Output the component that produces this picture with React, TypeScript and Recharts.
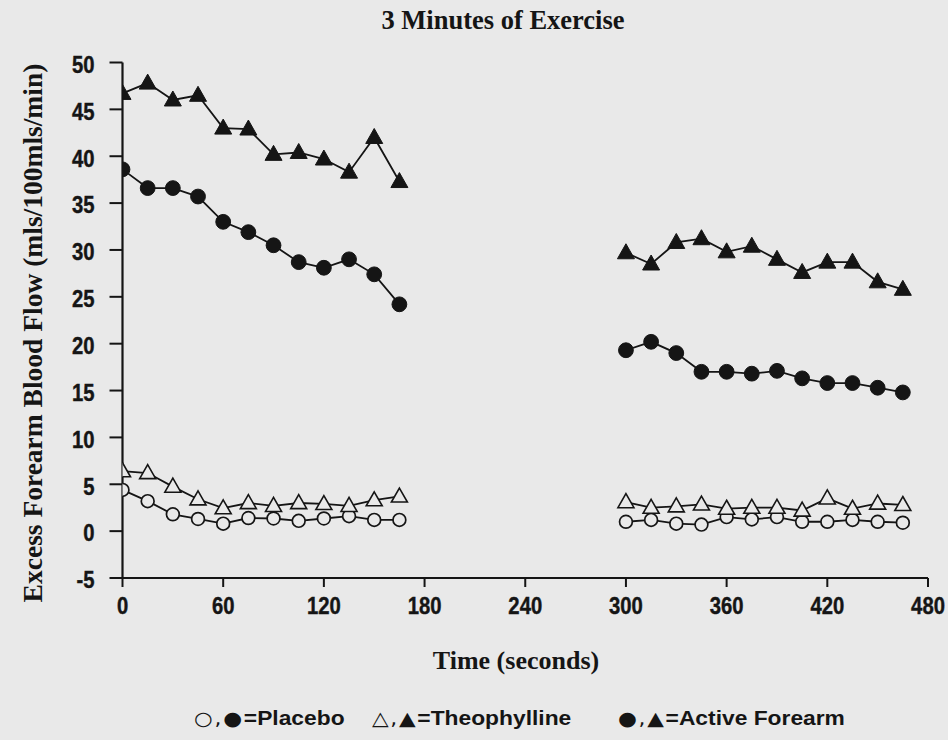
import React from "react";
import { LineChart, Line, XAxis, YAxis } from "recharts";

// Sampling times (seconds) for the two recording windows
const TIMES_EARLY = [0, 15, 30, 45, 60, 75, 90, 105, 120, 135, 150, 165];
const TIMES_LATE = [300, 315, 330, 345, 360, 375, 390, 405, 420, 435, 450, 465];

// Excess forearm blood flow (mls/100mls/min)
const THEO_ACTIVE_EARLY = [46.7, 47.8, 46.0, 46.5, 43.0, 42.9, 40.2, 40.4, 39.7, 38.3, 42.0, 37.3];
const THEO_ACTIVE_LATE = [29.7, 28.5, 30.8, 31.2, 29.8, 30.4, 29.0, 27.6, 28.7, 28.7, 26.6, 25.8];
const PLACEBO_ACTIVE_EARLY = [38.6, 36.6, 36.6, 35.7, 33.0, 31.9, 30.5, 28.7, 28.1, 29.0, 27.4, 24.2];
const PLACEBO_ACTIVE_LATE = [19.3, 20.2, 19.0, 17.0, 17.0, 16.8, 17.1, 16.3, 15.8, 15.8, 15.3, 14.8];
const THEO_CONTROL_EARLY = [6.4, 6.2, 4.75, 3.4, 2.45, 3.0, 2.7, 3.0, 2.9, 2.7, 3.3, 3.7];
const THEO_CONTROL_LATE = [3.1, 2.5, 2.65, 2.85, 2.4, 2.5, 2.5, 2.2, 3.5, 2.4, 2.95, 2.8];
const PLACEBO_CONTROL_EARLY = [4.4, 3.2, 1.8, 1.3, 0.8, 1.4, 1.35, 1.1, 1.35, 1.6, 1.2, 1.2];
const PLACEBO_CONTROL_LATE = [1.0, 1.2, 0.8, 0.7, 1.5, 1.25, 1.5, 1.0, 1.0, 1.2, 1.0, 0.9];

const X_TICKS = [0, 60, 120, 180, 240, 300, 360, 420, 480];
const Y_TICKS = [-5, 0, 5, 10, 15, 20, 25, 30, 35, 40, 45, 50];

const TITLE = "3 Minutes of Exercise";
const X_TITLE = "Time (seconds)";
const Y_TITLE = "Excess Forearm Blood Flow (mls/100mls/min)";
const LEGEND_ITEMS = [
  { marks: "○,●", text: "=Placebo" },
  { marks: "△,▲", text: "=Theophylline" },
  { marks: "●,▲", text: "=Active Forearm" },
];

const buildRows = (times: number[], pc: number[], tc: number[], pa: number[], ta: number[]) =>
  times.map((t, i) => ({ t, pc: pc[i], tc: tc[i], pa: pa[i], ta: ta[i] }));

const early = buildRows(TIMES_EARLY, PLACEBO_CONTROL_EARLY, THEO_CONTROL_EARLY, PLACEBO_ACTIVE_EARLY, THEO_ACTIVE_EARLY);
const late = buildRows(TIMES_LATE, PLACEBO_CONTROL_LATE, THEO_CONTROL_LATE, PLACEBO_ACTIVE_LATE, THEO_ACTIVE_LATE);

const BG = "#e9e9e9";
const INK = "#151515";
const SERIF = "'Liberation Serif', 'Times New Roman', serif";
const SANS = "'Liberation Sans', Arial, sans-serif";
const SYMBOLS = "'DejaVu Sans', sans-serif";

const tri = (cx: number, cy: number, w: number, h: number) =>
  `M${cx},${cy - h * 0.6} L${cx + w / 2},${cy + h * 0.4} L${cx - w / 2},${cy + h * 0.4} Z`;

const FilledCircle = (p: any) =>
  p.cy == null ? <g key={p.key} /> : <circle key={p.key} cx={p.cx} cy={p.cy} r={7.4} fill={INK} stroke={INK} strokeWidth={1} />;
const OpenCircle = (p: any) =>
  p.cy == null ? <g key={p.key} /> : <circle key={p.key} cx={p.cx} cy={p.cy} r={6.4} fill={BG} stroke={INK} strokeWidth={1.7} />;
const FilledTriangle = (p: any) =>
  p.cy == null ? <g key={p.key} /> : <path key={p.key} d={tri(p.cx, p.cy, 17, 15)} fill={INK} stroke={INK} strokeWidth={1} />;
const OpenTriangle = (p: any) =>
  p.cy == null ? <g key={p.key} /> : <path key={p.key} d={tri(p.cx, p.cy, 16, 14)} fill={BG} stroke={INK} strokeWidth={1.6} />;

// Condensed bold tick labels
const XTick = (p: any) => (
  <text
    transform={`translate(${p.x},${p.y}) scale(0.88,1)`}
    textAnchor="middle"
    dy="0.71em"
    fontFamily={SANS}
    fontWeight={700}
    fontSize={23}
    fill={INK}
    stroke={INK}
    strokeWidth={0.4}
  >
    {p.payload.value}
  </text>
);
const YTick = (p: any) => (
  <text
    transform={`translate(${p.x},${p.y}) scale(0.88,1)`}
    textAnchor="end"
    dy="0.45em"
    fontFamily={SANS}
    fontWeight={700}
    fontSize={23}
    fill={INK}
    stroke={INK}
    strokeWidth={0.4}
  >
    {p.payload.value}
  </text>
);

const series = [
  { key: "pc", dot: OpenCircle },
  { key: "tc", dot: OpenTriangle },
  { key: "pa", dot: FilledCircle },
  { key: "ta", dot: FilledTriangle },
];

const LEGEND_LEFT = [194, 372, 618];

export default function App() {
  return (
    <div style={{ position: "absolute", left: 0, top: 0, width: 948, height: 740, background: BG, overflow: "hidden" }}>
      <LineChart width={948} height={740} margin={{ top: 62.5, right: 20, bottom: 122, left: 22.5 }}>
        <XAxis
          type="number"
          dataKey="t"
          domain={[0, 480]}
          ticks={X_TICKS}
          interval={0}
          allowDataOverflow
          height={40}
          tickSize={9}
          tickMargin={11}
          tick={<XTick />}
          axisLine={{ stroke: INK, strokeWidth: 2.2 }}
          tickLine={{ stroke: INK, strokeWidth: 2 }}
        />
        <YAxis
          type="number"
          domain={[-5, 50]}
          ticks={Y_TICKS}
          interval={0}
          allowDataOverflow
          width={100}
          tickSize={13}
          tickMargin={15}
          tick={<YTick />}
          axisLine={{ stroke: INK, strokeWidth: 2.2 }}
          tickLine={{ stroke: INK, strokeWidth: 2 }}
        />
        {series.map((s) =>
          [early, late].map((rows, i) => (
            <Line
              key={`${s.key}-${i}`}
              data={rows}
              dataKey={s.key}
              type="linear"
              stroke={INK}
              strokeWidth={1.8}
              dot={s.dot}
              activeDot={false}
              isAnimationActive={false}
            />
          ))
        )}
      </LineChart>

      <div style={{ position: "absolute", left: 0, width: 1006, top: 5, textAlign: "center", fontFamily: SERIF, fontWeight: 700, fontSize: 26.5, color: INK, lineHeight: "30px" }}>
        {TITLE}
      </div>

      <div style={{ position: "absolute", left: 0, width: 1032, top: 646, textAlign: "center", fontFamily: SERIF, fontWeight: 700, fontSize: 26, color: INK, lineHeight: "30px" }}>
        {X_TITLE}
      </div>

      <div
        style={{
          position: "absolute",
          left: 33,
          top: 333,
          transform: "translate(-50%, -50%) rotate(-90deg)",
          whiteSpace: "nowrap",
          fontFamily: SERIF,
          fontWeight: 700,
          fontSize: 27.5,
          color: INK,
          lineHeight: "30px",
        }}
      >
        {Y_TITLE}
      </div>

      {LEGEND_ITEMS.map((item, i) => (
        <div
          key={item.text}
          style={{
            position: "absolute",
            left: LEGEND_LEFT[i],
            top: 703,
            transform: "scale(1.14,1)",
            transformOrigin: "0 50%",
            fontFamily: SANS,
            fontWeight: 700,
            fontSize: 20,
            color: INK,
            lineHeight: "30px",
            whiteSpace: "nowrap",
          }}
        >
          <span style={{ fontFamily: SYMBOLS, fontSize: 19, fontWeight: 400, letterSpacing: 1.5 }}>{item.marks}</span>
          {item.text}
        </div>
      ))}
    </div>
  );
}
